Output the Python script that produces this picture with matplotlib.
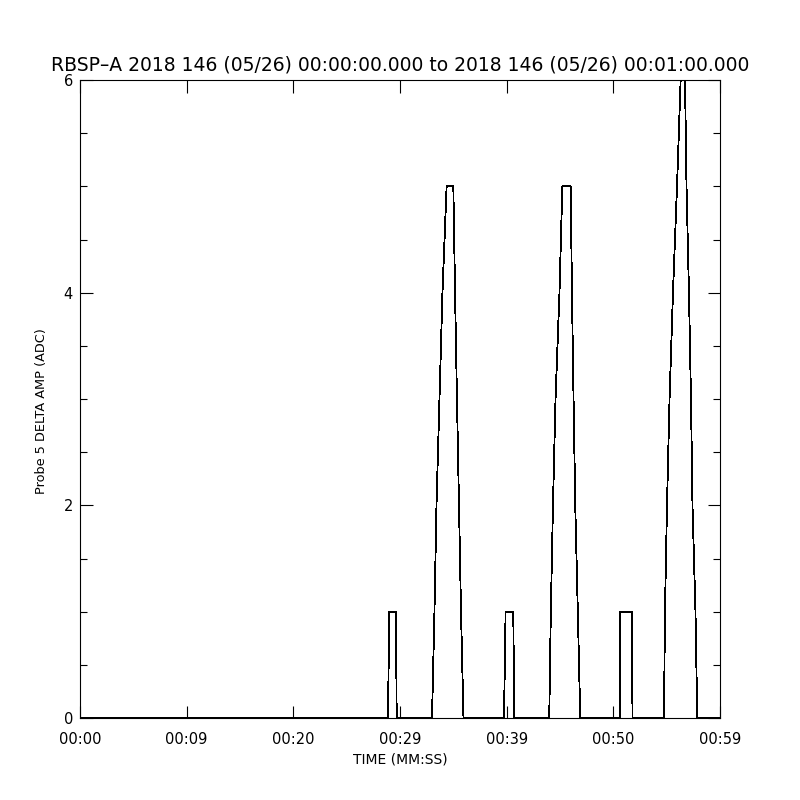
import matplotlib
matplotlib.use('Agg')
import matplotlib.pyplot as plt
from matplotlib.ticker import FixedLocator, MultipleLocator

# probe 5 delta amplitude vs time (seconds after 00:00:00)
t_sec = [0.0,
         28.87, 29.0, 29.62, 29.69,
         33.0, 33.23, 33.42, 33.70, 33.98, 34.37, 35.0, 35.16, 35.34, 35.53, 35.72, 35.95,
         39.75, 39.9, 40.62, 40.71,
         43.99, 44.14, 44.34, 44.58, 44.95, 45.22, 46.0, 46.12, 46.27, 46.43, 46.67, 46.9,
         50.62, 50.65, 51.72, 51.8,
         54.75, 54.84, 55.03, 55.27, 55.59, 55.97, 56.31, 56.72, 56.86, 57.09, 57.28, 57.42, 57.7, 57.87,
         60.0]
amp = [0,
       0, 1, 1, 0,
       0, 1, 2, 3, 4, 5, 5, 4, 3, 2, 1, 0,
       0, 1, 1, 0,
       0, 1, 2, 3, 4, 5, 5, 4, 3, 2, 1, 0,
       0, 1, 1, 0,
       0, 1, 2, 3, 4, 5, 6, 6, 5, 4, 3, 2, 1, 0,
       0]

xtick_pos = [0, 10, 20, 30, 40, 50, 60]
xtick_labels = ['00:00', '00:09', '00:20', '00:29', '00:39', '00:50', '00:59']
ytick_pos = [0, 2, 4, 6]
ytick_labels = ['0', '2', '4', '6']

title = 'RBSP\u2013A 2018 146 (05/26) 00:00:00.000 to 2018 146 (05/26) 00:01:00.000'

plt.rcParams['font.family'] = ['DejaVu Sans']

fig = plt.figure(figsize=(8, 8), dpi=100)
ax = fig.add_axes([0.1, 0.1025, 0.8, 0.7975])

ax.plot(t_sec, amp, color='black', lw=0.6, antialiased=False)

ax.set_xlim(0, 60)
ax.set_ylim(0, 6)

ax.xaxis.set_major_locator(FixedLocator(xtick_pos))
ax.set_xticklabels(xtick_labels)
ax.yaxis.set_major_locator(FixedLocator(ytick_pos))
ax.set_yticklabels(ytick_labels)
ax.yaxis.set_minor_locator(MultipleLocator(0.5))

ax.tick_params(axis='both', which='both', direction='in', top=True, right=True,
               color='black', width=0.8, labelsize=10.5)
ax.tick_params(axis='x', which='major', length=9, pad=10)
ax.tick_params(axis='y', which='major', length=9, pad=5)
ax.tick_params(axis='y', which='minor', length=5)

for s in ax.spines.values():
    s.set_linewidth(0.8)

ax.set_title(title, fontsize=13.5, pad=7)
ax.set_xlabel('TIME (MM:SS)', fontsize=10, labelpad=4)
ax.set_ylabel('Probe 5 DELTA AMP (ADC)', fontsize=9.3)
ax.yaxis.set_label_coords(-0.05, 0.481)

fig.savefig('out.png', dpi=100, facecolor='white')
